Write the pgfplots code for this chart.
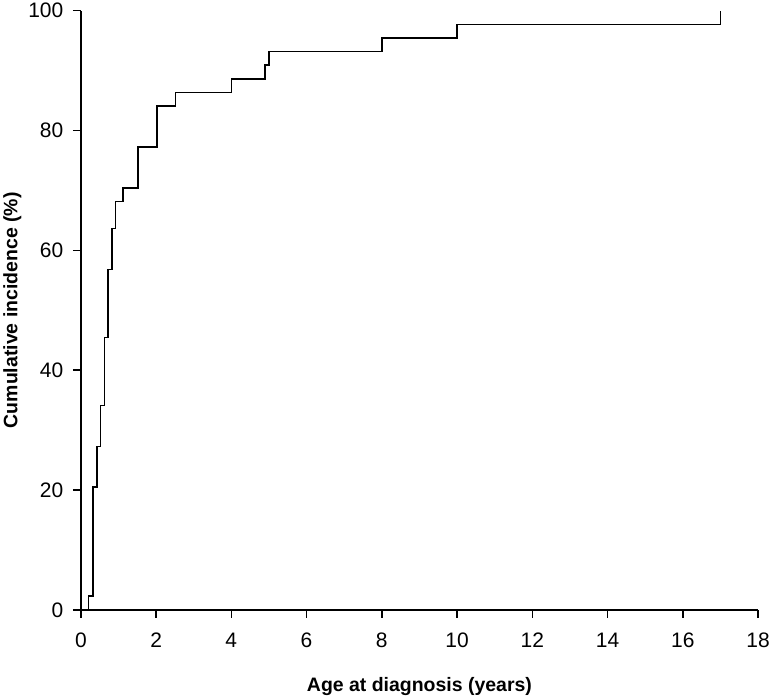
\documentclass[border=0pt]{standalone}
\usepackage{fontspec}
\setmainfont{Liberation Sans}
\usepackage{pgfplots}
\pgfplotsset{compat=1.18}
\begin{document}
\begin{tikzpicture}
\begin{axis}[
  width=676bp, height=598bp, scale only axis,
  xmin=0, xmax=18, ymin=0, ymax=100,
  axis x line*=bottom, axis y line*=left,
  xtick={0,2,...,18}, ytick={0,20,...,100},
  tick align=outside, major tick length=8bp,
  tick style={black, line width=1.5bp},
  axis line style={line width=1.5bp},
  /pgf/number format/assume math mode=true,
  ticklabel style={font=\fontsize{21}{25}\selectfont},
  xticklabel style={yshift=-12bp},
  yticklabel style={xshift=-6bp},
  label style={font=\fontsize{19.5}{23}\selectfont\bfseries},
  xlabel={Age at diagnosis (years)},
  ylabel={Cumulative incidence (\%)},
  xlabel style={yshift=-22bp},
  ylabel style={yshift=0bp},
]
\addplot[const plot, black, line width=1.6bp] coordinates {
  (0,0) (0.2,2.27) (0.33,20.45) (0.43,27.27) (0.52,34.09) (0.63,45.45)
  (0.73,56.82) (0.83,63.64) (0.92,68.18) (1.12,70.45) (1.52,77.27)
  (2.02,84.09) (2.52,86.36) (4.0,88.64) (4.9,90.91) (5.0,93.18)
  (8.0,95.45) (10.0,97.73) (17.0,100)
};
\end{axis}
\end{tikzpicture}
\end{document}
